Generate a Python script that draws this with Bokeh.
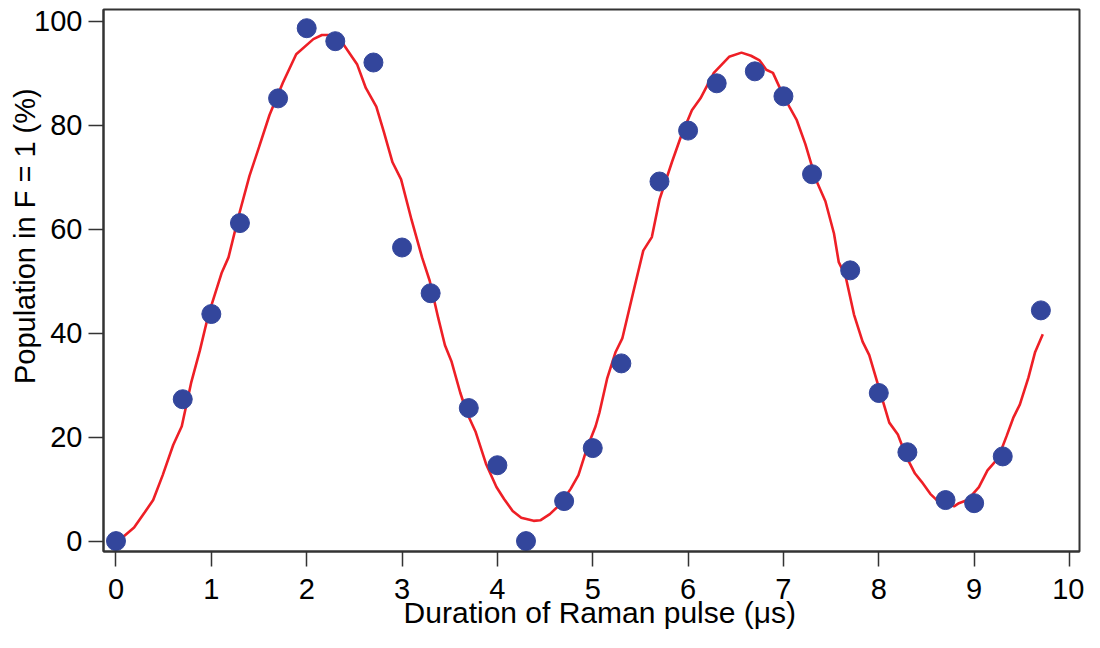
from bokeh.plotting import figure
from bokeh.models import Range1d, FixedTicker
from bokeh.embed import file_html
from bokeh.resources import INLINE

# measured data points
pulse_us = [0.0, 0.7, 1.0, 1.3, 1.7, 2.0, 2.3, 2.7, 3.0, 3.3, 3.7, 4.0, 4.3, 4.7,
            5.0, 5.3, 5.7, 6.0, 6.3, 6.7, 7.0, 7.3, 7.7, 8.0, 8.3, 8.7, 9.0, 9.3, 9.7]
population = [0.0, 27.3, 43.7, 61.2, 85.2, 98.7, 96.2, 92.1, 56.5, 47.7, 25.6, 14.6, 0.0, 7.7,
              17.9, 34.2, 69.2, 79.0, 88.1, 90.4, 85.6, 70.6, 52.1, 28.5, 17.1, 7.9, 7.3, 16.3, 44.4]

# fitted curve
fit_t = [0.00, 0.08, 0.19, 0.30, 0.39, 0.49, 0.60, 0.69, 0.79, 0.88, 0.97, 1.11, 1.18, 1.29,
         1.40, 1.50, 1.61, 1.75, 1.89, 2.07, 2.16, 2.27, 2.36, 2.46, 2.53, 2.62, 2.73, 2.81,
         2.90, 2.99, 3.10, 3.21, 3.29, 3.38, 3.45, 3.52, 3.61, 3.68, 3.77, 3.88, 3.99, 4.07,
         4.16, 4.25, 4.38, 4.45, 4.55, 4.66, 4.77, 4.85, 4.94, 5.03, 5.07, 5.15, 5.24, 5.31,
         5.42, 5.53, 5.62, 5.70, 5.83, 5.93, 6.04, 6.13, 6.27, 6.43, 6.56, 6.66, 6.75, 6.82,
         6.89, 6.98, 7.07, 7.14, 7.23, 7.34, 7.44, 7.53, 7.58, 7.65, 7.74, 7.83, 7.90, 7.99,
         8.11, 8.20, 8.29, 8.38, 8.45, 8.54, 8.63, 8.72, 8.79, 8.84, 8.93, 9.05, 9.14, 9.25,
         9.34, 9.41, 9.48, 9.57, 9.64, 9.72]
fit_v = [0.3, 0.9, 2.6, 5.5, 7.9, 12.7, 18.5, 22.1, 30.6, 36.7, 43.6, 51.7, 54.6, 62.8,
         70.3, 75.8, 82.0, 88.2, 93.7, 96.6, 97.4, 97.4, 96.3, 93.6, 91.7, 87.2, 83.6, 78.7,
         72.9, 69.6, 61.8, 54.6, 50.1, 42.9, 37.7, 34.5, 28.6, 24.7, 21.1, 14.9, 10.4, 8.1,
         5.8, 4.5, 3.9, 4.0, 5.2, 7.1, 10.1, 12.7, 17.9, 22.1, 24.7, 31.2, 36.4, 39.0,
         47.5, 55.9, 58.5, 65.7, 72.9, 78.1, 82.9, 85.2, 90.1, 93.2, 94.0, 93.4, 92.5, 90.7,
         90.1, 86.5, 83.3, 81.0, 76.4, 69.6, 65.4, 59.2, 53.7, 51.1, 43.6, 38.4, 35.8, 30.2,
         22.8, 20.5, 16.2, 13.0, 11.4, 9.1, 7.5, 7.1, 6.7, 7.3, 7.9, 10.4, 13.6, 15.9,
         20.2, 23.7, 26.3, 31.5, 36.4, 39.8]

x_ticks = [0, 1, 2, 3, 4, 5, 6, 7, 8, 9, 10]
y_ticks = [0, 20, 40, 60, 80, 100]

x_label = "\u00a0\u00a0Duration of Raman pulse (μs)"
y_label = "\u00a0" * 11 + "Population in F = 1 (%)"

FONT = "Liberation Sans"
AX = "#333333"

p = figure(width=1084, height=632, output_backend="svg", toolbar_location=None,
           x_range=Range1d(-0.131, 10.105), y_range=Range1d(-2.0, 102.3),
           min_border_left=103, min_border_right=5, min_border_top=9, min_border_bottom=81)

p.line(fit_t, fit_v, line_color="#ee1f26", line_width=2.6)
p.scatter(pulse_us, population, size=19, fill_color="#33469c", line_color="#33469c")

p.grid.visible = False
p.background_fill_color = "white"
p.border_fill_color = "white"
p.outline_line_color = AX
p.outline_line_width = 2

p.xaxis.ticker = FixedTicker(ticks=x_ticks)
p.yaxis.ticker = FixedTicker(ticks=y_ticks)
p.xaxis.axis_label = x_label
p.yaxis.axis_label = y_label

for ax in (p.xaxis[0], p.yaxis[0]):
    ax.axis_line_color = AX
    ax.axis_line_width = 2
    ax.major_tick_line_color = AX
    ax.major_tick_line_width = 1.5
    ax.major_tick_out = 15
    ax.major_tick_in = 0
    ax.minor_tick_line_color = None
    ax.major_label_text_font = FONT
    ax.major_label_text_font_size = "29px"
    ax.major_label_text_color = "black"
    ax.axis_label_text_font = FONT
    ax.axis_label_text_font_style = "normal"
    ax.axis_label_text_color = "black"

p.xaxis.axis_label_text_font_size = "30px"
p.yaxis.axis_label_text_font_size = "29px"
p.xaxis.major_label_standoff = 12
p.xaxis.axis_label_standoff = -6
p.yaxis.major_label_standoff = 6
p.yaxis.axis_label_standoff = -10

open("out.html", "w").write(file_html(p, INLINE))
